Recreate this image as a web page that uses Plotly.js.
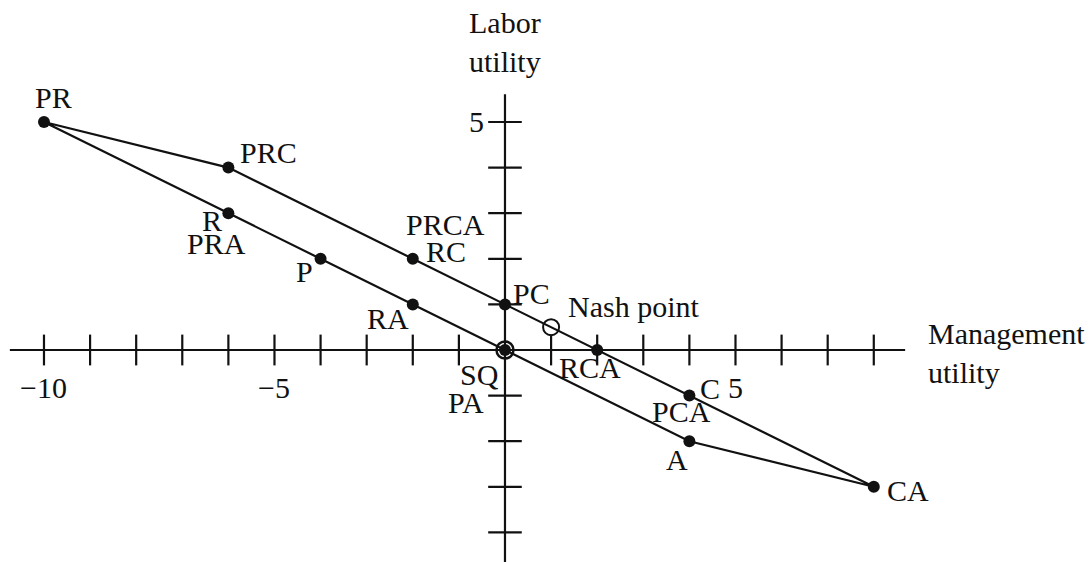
<!DOCTYPE html>
<html>
<head>
<meta charset="utf-8">
<script src="https://cdn.plot.ly/plotly-3.0.1.min.js"></script>
<style>
  html, body { margin: 0; padding: 0; background: #fff; }
  #chart { width: 1090px; height: 562px; }
</style>
</head>
<body>
<div id="chart"></div>
<script>
// Bargaining outcomes: management utility vs labor utility
const outcomeNames  = ['PR', 'PRC', 'R', 'P', 'RC', 'RA', 'PC', 'SQ', 'RCA', 'C', 'A', 'CA'];
const mgmtUtility   = [-10, -6, -6, -4, -2, -2, 0, 0, 2, 4, 4, 8];
const laborUtility  = [5, 4, 3, 2, 2, 1, 1, 0, 0, -1, -2, -3];

// Boundary of the feasible set, walked around the outcome points
const upperEdge = ['PR', 'PRC', 'RC', 'PC', 'RCA', 'C', 'CA'];
const lowerEdge = ['CA', 'A', 'SQ', 'RA', 'P', 'R', 'PR'];

// Nash bargaining solution
const nashMgmt  = [1];
const nashLabor = [0.5];

// Axis ticks and their labels
const xTickValues = [-10, -9, -8, -7, -6, -5, -4, -3, -2, -1, 1, 2, 3, 4, 5, 6, 7, 8];
const xTickLabels = { '-10': '\u221210', '-5': '\u22125', '5': '5' };
const yTickValues = [-4, -3, -2, -1, 1, 2, 3, 4, 5];
const yTickLabels = { '5': '5' };

// Extent of the drawn axis lines
const xAxisSpan = [-10.74, 8.68];
const yAxisSpan = [-4.7, 5.61];

// Point labels: text, the outcome it names, and its offset in pixels
const pointLabels = [
  { text: 'PR',   at: 'PR',  dx: 10,  dy: 24 },
  { text: 'PRC',  at: 'PRC', dx: 40,  dy: 15 },
  { text: 'R',    at: 'R',   dx: -16, dy: -7 },
  { text: 'PRA',  at: 'R',   dx: -12, dy: -30 },
  { text: 'P',    at: 'P',   dx: -16, dy: -13 },
  { text: 'PRCA', at: 'RC',  dx: 33,  dy: 34 },
  { text: 'RC',   at: 'RC',  dx: 33,  dy: 7 },
  { text: 'RA',   at: 'RA',  dx: -25, dy: -14 },
  { text: 'PC',   at: 'PC',  dx: 27,  dy: 11 },
  { text: 'SQ',   at: 'SQ',  dx: -25, dy: -24 },
  { text: 'PA',   at: 'SQ',  dx: -39, dy: -52 },
  { text: 'RCA',  at: 'RCA', dx: -7,  dy: -17 },
  { text: 'C',    at: 'C',   dx: 21,  dy: 7 },
  { text: 'PCA',  at: 'C',   dx: -8,  dy: -16 },
  { text: 'A',    at: 'A',   dx: -12, dy: -18 },
  { text: 'CA',   at: 'CA',  dx: 34,  dy: -4 }
];

const FONT = { family: 'Liberation Serif, Times New Roman, serif', size: 30, color: '#111' };
const INK = '#111';

function idx(name) { return outcomeNames.indexOf(name); }
const boundary = upperEdge.concat(lowerEdge.slice(1));
const bx = boundary.map(n => mgmtUtility[idx(n)]);
const by = boundary.map(n => laborUtility[idx(n)]);

const traces = [
  // axis lines
  { x: xAxisSpan, y: [0, 0], mode: 'lines', line: { color: INK, width: 2.2 } },
  { x: [0, 0], y: yAxisSpan, mode: 'lines', line: { color: INK, width: 2.2 } },
  // tick marks crossing the axes
  { x: xTickValues, y: xTickValues.map(() => 0), mode: 'markers',
    marker: { symbol: 'line-ns', size: 22, color: INK, line: { color: INK, width: 2.2 } } },
  { x: yTickValues.map(() => 0), y: yTickValues, mode: 'markers',
    marker: { symbol: 'line-ew', size: 24, color: INK, line: { color: INK, width: 2.2 } } },
  // feasible-set boundary
  { x: bx, y: by, mode: 'lines', line: { color: INK, width: 2.2 } },
  // outcome points
  { x: mgmtUtility, y: laborUtility, mode: 'markers',
    marker: { symbol: 'circle', size: 12, color: INK } },
  // status quo ring
  { x: [mgmtUtility[idx('SQ')]], y: [laborUtility[idx('SQ')]], mode: 'markers',
    marker: { symbol: 'circle-open', size: 17, color: INK, line: { color: INK, width: 2.5 } } },
  // Nash point
  { x: nashMgmt, y: nashLabor, mode: 'markers',
    marker: { symbol: 'circle-open', size: 16, color: INK, line: { color: INK, width: 2 } } }
];

const annotations = [];
pointLabels.forEach(l => {
  annotations.push({ x: mgmtUtility[idx(l.at)], y: laborUtility[idx(l.at)], text: l.text,
    xshift: l.dx, yshift: l.dy, showarrow: false, font: FONT, xanchor: 'center', yanchor: 'middle' });
});
annotations.push({ x: nashMgmt[0], y: nashLabor[0], text: 'Nash point', xshift: 15, yshift: 21,
  showarrow: false, font: FONT, xanchor: 'left', yanchor: 'middle' });
Object.keys(xTickLabels).forEach(k => {
  annotations.push({ x: Number(k), y: 0, text: xTickLabels[k], yshift: -37, showarrow: false,
    font: FONT, xanchor: 'center', yanchor: 'middle' });
});
Object.keys(yTickLabels).forEach(k => {
  annotations.push({ x: 0, y: Number(k), text: yTickLabels[k], xshift: -28, showarrow: false,
    font: FONT, xanchor: 'center', yanchor: 'middle' });
});
// axis titles
annotations.push({ x: xAxisSpan[1], y: 0, text: 'Management<br>utility', xshift: 21, yshift: -3,
  showarrow: false, font: FONT, xanchor: 'left', yanchor: 'middle', align: 'left' });
annotations.push({ x: 0, y: yAxisSpan[1], text: 'Labor<br>utility', yshift: 52,
  showarrow: false, font: FONT, xanchor: 'center', yanchor: 'middle', align: 'left' });

const hidden = { visible: false, showgrid: false, zeroline: false, fixedrange: true };
const layout = {
  width: 1090, height: 562,
  margin: { l: 0, r: 0, t: 0, b: 0 },
  paper_bgcolor: '#fff', plot_bgcolor: '#fff',
  showlegend: false,
  xaxis: Object.assign({ range: [-10.954, 12.69] }, hidden),
  yaxis: Object.assign({ range: [-4.649, 7.675] }, hidden),
  annotations: annotations
};

Plotly.newPlot('chart', traces, layout, { staticPlot: true, displayModeBar: false });
</script>
</body>
</html>
